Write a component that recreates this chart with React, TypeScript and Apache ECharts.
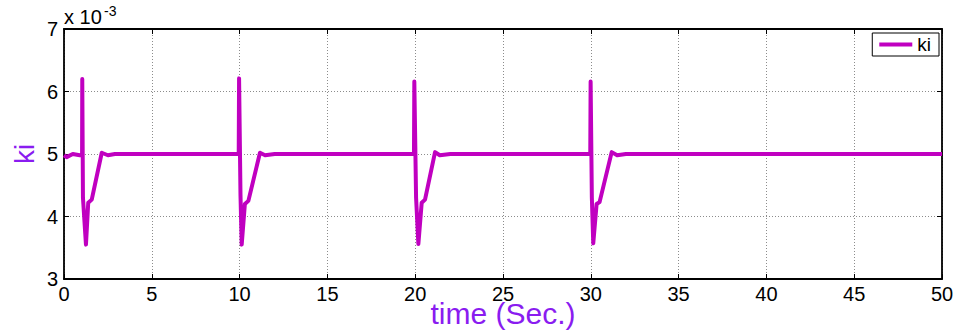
import React, { useEffect, useRef } from "react";
import * as echarts from "echarts";

// time in seconds
const timeSec: number[] = [
  0, 0.15, 0.5, 0.9, 1.03, 1.04, 1.08, 1.25, 1.38, 1.58, 2.15, 2.5, 2.9,
  9.95, 9.97, 10.05, 10.12, 10.3, 10.5, 11.16, 11.45, 12.0,
  19.93, 19.95, 20.05, 20.18, 20.37, 20.56, 21.13, 21.4, 22.0,
  29.97, 29.99, 30.06, 30.14, 30.33, 30.5, 31.19, 31.5, 32.0,
  50,
];
// ki values in units of 10^-3
const kiValues: number[] = [
  4.98, 4.95, 5.0, 4.98, 4.98, 6.2, 4.3, 3.55, 4.22, 4.27, 5.02, 4.98, 5.0,
  5.0, 6.21, 4.35, 3.55, 4.2, 4.25, 5.02, 4.98, 5.0,
  5.0, 6.16, 4.3, 3.56, 4.22, 4.27, 5.03, 4.98, 5.0,
  5.0, 6.16, 4.3, 3.57, 4.2, 4.23, 5.03, 4.98, 5.0,
  5.0,
];
const xTicks = { min: 0, max: 50, interval: 5 };
const yTicks = { min: 3, max: 7, interval: 1 };

const FONT = "'Liberation Sans', Arial, sans-serif";
const LINE_COLOR = "#C000C0";
const LABEL_COLOR = "#8A1CF0";

export default function App() {
  const ref = useRef<HTMLDivElement>(null);
  useEffect(() => {
    if (!ref.current) return;
    const chart = echarts.init(ref.current, null, { renderer: "svg" });
    const data = timeSec.map((t, i) => [t, kiValues[i]]);
    const gridLine = { show: true, lineStyle: { color: "#8c8c8c", width: 1, type: [1, 2] as any } };
    const axisLine = { show: true, onZero: false, lineStyle: { color: "#000", width: 1.8 } };
    const tick = { show: true, inside: true, length: 5, lineStyle: { color: "#000", width: 1 } };
    chart.setOption({
      animation: false,
      backgroundColor: "#fff",
      grid: {
        left: 64,
        top: 29,
        right: 14,
        bottom: 52,
        containLabel: false,
        outerBoundsMode: "none",
      },
      legend: {
        show: true,
        right: 17,
        top: 33,
        data: ["ki"],
        icon: "rect",
        itemWidth: 33,
        itemHeight: 4,
        padding: [2, 8, 2, 7],
        borderColor: "#000",
        borderWidth: 1,
        borderRadius: 0,
        backgroundColor: "#fff",
        textStyle: { fontFamily: FONT, fontSize: 19, color: "#000" },
      },
      xAxis: [
        {
          type: "value",
          min: xTicks.min,
          max: xTicks.max,
          interval: xTicks.interval,
          position: "bottom",
          name: "time (Sec.)",
          nameLocation: "middle",
          nameGap: 23,
          nameMoveOverlap: false,
          nameTextStyle: { fontFamily: FONT, fontSize: 30, lineHeight: 22, color: LABEL_COLOR },
          axisLine,
          axisTick: tick,
          splitLine: gridLine,
          axisLabel: { fontFamily: FONT, fontSize: 20, lineHeight: 16, color: "#000", margin: 7 },
        },
        {
          type: "value",
          min: xTicks.min,
          max: xTicks.max,
          interval: xTicks.interval,
          position: "top",
          axisLine,
          axisTick: tick,
          splitLine: { show: false },
          axisLabel: { show: false },
        },
      ],
      yAxis: [
        {
          type: "value",
          min: yTicks.min,
          max: yTicks.max,
          interval: yTicks.interval,
          position: "left",
          name: "ki",
          nameLocation: "middle",
          nameGap: 26,
          nameMoveOverlap: false,
          nameRotate: 90,
          nameTextStyle: { fontFamily: FONT, fontSize: 28, color: LABEL_COLOR },
          axisLine,
          axisTick: tick,
          splitLine: gridLine,
          axisLabel: { fontFamily: FONT, fontSize: 20, color: "#000", margin: 6 },
        },
        {
          type: "value",
          min: yTicks.min,
          max: yTicks.max,
          interval: yTicks.interval,
          position: "right",
          axisLine,
          axisTick: tick,
          splitLine: { show: false },
          axisLabel: { show: false },
        },
      ],
      graphic: [
        {
          type: "text",
          left: 64,
          top: 7,
          style: { text: "x 10", font: `20px ${FONT}`, fill: "#000" },
        },
        {
          type: "text",
          left: 104,
          top: 4,
          style: { text: "-3", font: `14px ${FONT}`, fill: "#000" },
        },
      ],
      series: [
        {
          name: "ki",
          type: "line",
          data,
          showSymbol: false,
          symbol: "none",
          lineStyle: { color: LINE_COLOR, width: 4, join: "round" },
          itemStyle: { color: LINE_COLOR },
        },
      ],
    });
    return () => chart.dispose();
  }, []);
  return (
    <div
      ref={ref}
      style={{ position: "fixed", left: 0, top: 0, width: 956, height: 331, background: "#fff" }}
    />
  );
}
